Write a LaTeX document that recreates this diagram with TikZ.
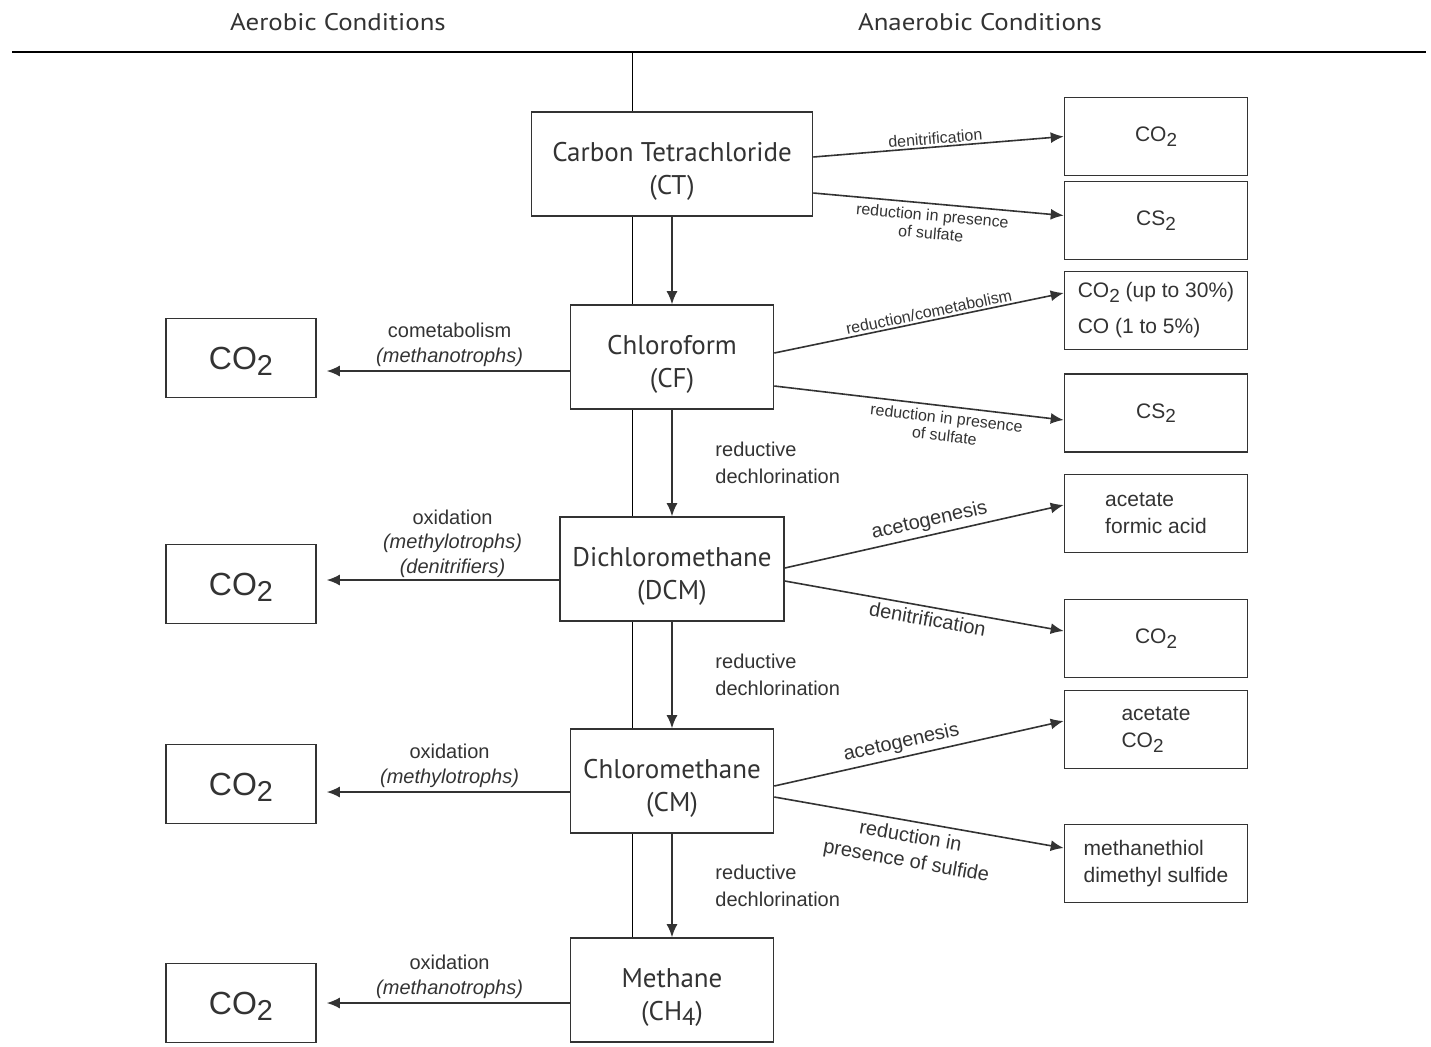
\documentclass[tikz,border=0pt]{standalone}
\usepackage{fontspec}
\usepackage{graphicx}
\setmainfont{Liberation Sans}
\newfontfamily\ptsans{PT Sans}
\newfontfamily\ptsanswide{PT Sans}[FakeStretch=1.12]
\usetikzlibrary{arrows.meta,positioning,backgrounds}
\newcommand{\lo}[1]{\raisebox{-0.4ex}{\scalebox{0.9}{#1}}}

\begin{document}
\begin{tikzpicture}[x=0.5pt, y=-0.5pt, line width=0.8pt, color=black!80,
    compound/.style={rectangle, draw, fill=white, align=center, inner sep=0pt, minimum height=52pt, font=\ptsans\fontsize{13.5}{16.5}\selectfont, execute at begin node={\rule{0pt}{33pt}}},
    aerobic/.style={rectangle, draw, fill=white, inner sep=0pt, text depth=0pt, minimum width=75pt, minimum height=39.5pt, font=\fontsize{16}{18}\selectfont},
    product/.style={rectangle, draw, fill=white, align=left, inner sep=0pt, minimum width=91.5pt, minimum height=39pt, font=\fontsize{10.5}{13.5}\selectfont},
    heading/.style={font=\ptsanswide\fontsize{12}{14}\selectfont},
    pathway/.style={align=center, inner sep=2pt, font=\fontsize{10}{12.2}\selectfont},
    reductive/.style={align=left, font=\fontsize{10}{13.5}\selectfont},
    tinylabel/.style={sloped, align=center, inner sep=1pt, font=\fontsize{8}{9}\selectfont},
    slopelabel/.style={sloped, align=center, inner sep=2pt, font=\fontsize{10}{12.5}\selectfont},
    arrow/.style={-{Latex[length=6.5pt,width=5.5pt]}}
]
    \useasboundingbox (0,0) rectangle (1431,1046);

    \node[heading] (aerobichead) at (338,22) {Aerobic Conditions};
    \node[heading] (anaerobichead) at (980,22) {Anaerobic Conditions};

    % main sequence
    \node[compound, minimum width=140.5pt] (ct) at (672,164) {Carbon Tetrachloride\\(CT)};
    \node[compound, minimum width=101.5pt] (cf) at (672,357) {Chloroform\\(CF)};
    \node[compound, minimum width=112pt] (dcm) at (672,569) {Dichloromethane\\(DCM)};
    \node[compound, minimum width=101.5pt] (cm) at (672,781) {Chloromethane\\(CM)};
    \node[compound, minimum width=101.5pt] (ch4) at (672,990) {Methane\\(CH\lo{4})};

    % aerobic products
    \node[aerobic] (cfox) at (241,358) {CO\lo{2}};
    \node[aerobic] (dcmox) at (241,584) {CO\lo{2}};
    \node[aerobic] (cmox) at (241,784) {CO\lo{2}};
    \node[aerobic] (ch4ox) at (241,1003) {CO\lo{2}};

    % anaerobic products
    \node[product] (ct1) at (1156,136.5) {CO\lo{2}};
    \node[product] (ct2) at (1156,220.5) {CS\lo{2}};
    \node[product] (cf1) at (1156,310.5) {CO\lo{2} (up to 30\%)\\[4.5pt]CO (1 to 5\%)};
    \node[product] (cf2) at (1156,413) {CS\lo{2}};
    \node[product] (dcm1) at (1156,513.5) {acetate\\formic acid};
    \node[product] (dcm2) at (1156,638.5) {CO\lo{2}};
    \node[product] (cm1) at (1156,729.5) {acetate\\CO\lo{2}};
    \node[product] (cm2) at (1156,863.5) {methanethiol\\dimethyl sulfide};

    \begin{scope}[on background layer]
        \draw[line width=1.2pt] (12,52) coordinate (rulel) -- (1426,52) coordinate (ruler);
        \draw (632,52) coordinate (divtop) -- (divtop |- ch4.north);
    \end{scope}

    % reductive dechlorination
    \draw[arrow] (ct.south) -- (cf.north);
    \draw[arrow] (cf.south) -- node[reductive, right=18pt] {reductive\\dechlorination} (dcm.north);
    \draw[arrow] (dcm.south) -- node[reductive, right=18pt] {reductive\\dechlorination} (cm.north);
    \draw[arrow] (cm.south) -- node[reductive, right=18pt] {reductive\\dechlorination} (ch4.north);

    % aerobic
    \coordinate (cfl) at ([yshift=-7pt]cf.west);
    \coordinate (dcml) at ([yshift=-5.5pt]dcm.west);
    \coordinate (cml) at ([yshift=-5.5pt]cm.west);
    \coordinate (ch4l) at ([yshift=-6.5pt]ch4.west);
    \draw[arrow, shorten >=5pt] (cfl) -- node[pathway, above, pos=0.475] {cometabolism\\\textit{(methanotrophs)}} (cfl -| cfox.east);
    \draw[arrow, shorten >=5pt] (dcml) -- node[pathway, above, pos=0.44, inner sep=1pt] {oxidation\\\textit{(methylotrophs)}\\\textit{(denitrifiers)}} (dcml -| dcmox.east);
    \draw[arrow, shorten >=5pt] (cml) -- node[pathway, above, pos=0.475] {oxidation\\\textit{(methylotrophs)}} (cml -| cmox.east);
    \draw[arrow, shorten >=5pt] (ch4l) -- node[pathway, above, pos=0.475] {oxidation\\\textit{(methanotrophs)}} (ch4l -| ch4ox.east);

    % anaerobic
    \draw[arrow] ([yshift=3.5pt]ct.east) -- node[tinylabel, above, pos=0.49] {denitrification} (ct1.west);
    \draw[arrow] ([yshift=-14.5pt]ct.east) -- node[tinylabel, below, pos=0.48, inner sep=2.5pt] {reduction in presence\\of sulfate} ([yshift=2.5pt]ct2.west);
    \draw[arrow] ([yshift=2pt]cf.east) -- node[tinylabel, above, pos=0.54] {reduction/cometabolism} ([yshift=8.75pt]cf1.west);
    \draw[arrow] ([yshift=-14.5pt]cf.east) -- node[tinylabel, below, pos=0.6, inner sep=2.5pt] {reduction in presence\\of sulfate} ([yshift=-3.5pt]cf2.west);
    \draw[arrow] ([yshift=0.5pt]dcm.east) -- node[slopelabel, above, pos=0.53] {acetogenesis} ([yshift=4.25pt]dcm1.west);
    \draw[arrow] ([yshift=-6pt]dcm.east) -- node[slopelabel, below, pos=0.52] {denitrification} ([yshift=3.75pt]dcm2.west);
    \draw[arrow] ([yshift=-2.5pt]cm.east) -- node[slopelabel, above, pos=0.45] {acetogenesis} ([yshift=4.25pt]cm1.west);
    \draw[arrow] ([yshift=-8pt]cm.east) -- node[slopelabel, below, pos=0.48, inner sep=3pt] {reduction in\\presence of sulfide} ([yshift=7.75pt]cm2.west);
\end{tikzpicture}
\end{document}
